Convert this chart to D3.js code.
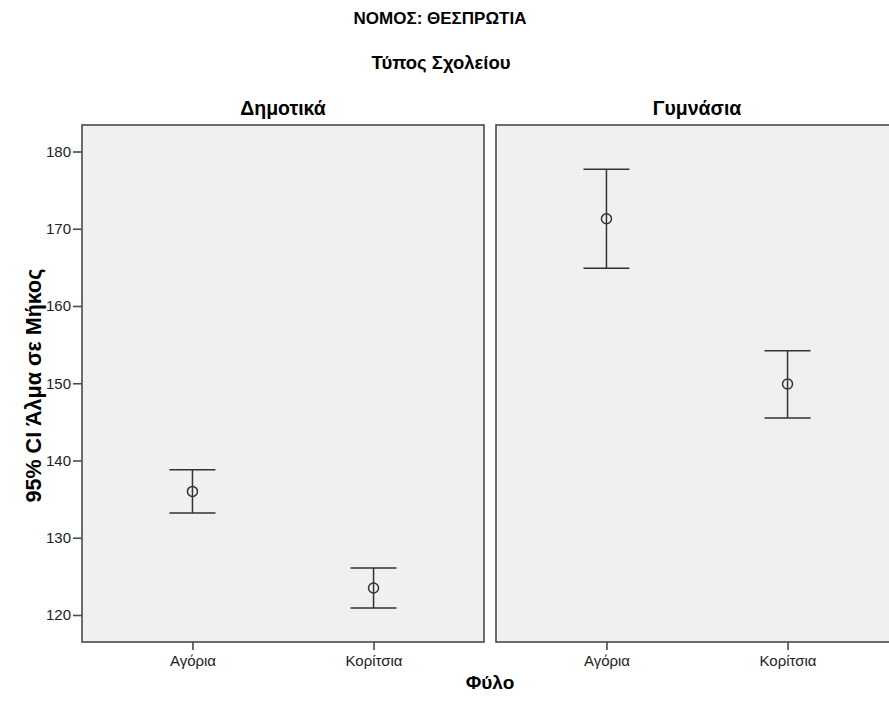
<!DOCTYPE html>
<html><head><meta charset="utf-8">
<script src="https://cdn.jsdelivr.net/npm/d3@7"></script>
<style>body{margin:0;background:#fff;} svg{display:block;}</style>
</head><body>
<svg id="c" width="889" height="706"></svg>
<script>
const title = "ΝΟΜΟΣ: ΘΕΣΠΡΩΤΙΑ";
const panelTitle = "Τύπος Σχολείου";
const panels = ["Δημοτικά", "Γυμνάσια"];
const categories = ["Αγόρια", "Κορίτσια"];
const means = [[136.0, 123.5], [171.3, 149.9]];
const lower = [[133.2, 120.9], [164.9, 145.5]];
const upper = [[138.8, 126.1], [177.7, 154.2]];
const yTicks = [120, 130, 140, 150, 160, 170, 180];
const yLabel = "95% CI Άλμα σε Μήκος";
const xLabel = "Φύλο";

const svg = d3.select("#c");
const pTop = 125, pBottom = 642;
const panelW = 402, panelLefts = [82, 496];
const y = d3.scaleLinear().domain([120, 180]).range([615, 151.5]);
const x = d3.scalePoint().domain(categories).range([0, panelW]).padding(0.61);

const sans = "'Liberation Sans',Arial,sans-serif";
svg.append("text").attr("x", 440).attr("y", 24).attr("text-anchor", "middle")
  .attr("font-family", sans).attr("font-weight", "bold").attr("font-size", 17).text(title);
svg.append("text").attr("x", 441).attr("y", 69).attr("text-anchor", "middle")
  .attr("font-family", sans).attr("font-weight", "bold").attr("font-size", 18.5).text(panelTitle);

panels.forEach((p, i) => {
  const g = svg.append("g").attr("transform", `translate(${panelLefts[i]},0)`);
  g.append("text").attr("x", panelW / 2).attr("y", 115).attr("text-anchor", "middle")
    .attr("font-family", sans).attr("font-weight", "bold").attr("font-size", 19.5).text(p);
  g.append("rect").attr("x", 0).attr("y", pTop).attr("width", panelW).attr("height", pBottom - pTop)
    .attr("fill", "#f0f0f0").attr("stroke", "#4a4a4a").attr("stroke-width", 1.6);
  const xa = g.append("g").attr("transform", `translate(0,${pBottom})`)
    .call(d3.axisBottom(x).tickSize(8).tickPadding(5));
  xa.select(".domain").remove();
  xa.selectAll("line").attr("stroke", "#4a4a4a").attr("stroke-width", 1.6);
  xa.selectAll("text").attr("font-family", sans).attr("font-size", 15).attr("fill", "#222");
  if (i === 0) {
    const ya = g.append("g").call(d3.axisLeft(y).tickValues(yTicks).tickSize(9).tickPadding(2));
    ya.select(".domain").remove();
    ya.selectAll("line").attr("stroke", "#4a4a4a").attr("stroke-width", 1.6);
    ya.selectAll("text").attr("font-family", sans).attr("font-size", 15).attr("fill", "#222");
  }
  const capW = 23;
  categories.forEach((c, j) => {
    const cx = x(c);
    const eb = g.append("g").attr("stroke", "#333").attr("stroke-width", 1.5).attr("fill", "none");
    eb.append("line").attr("x1", cx).attr("x2", cx).attr("y1", y(upper[i][j])).attr("y2", y(lower[i][j]));
    eb.append("line").attr("x1", cx - capW).attr("x2", cx + capW).attr("y1", y(upper[i][j])).attr("y2", y(upper[i][j]));
    eb.append("line").attr("x1", cx - capW).attr("x2", cx + capW).attr("y1", y(lower[i][j])).attr("y2", y(lower[i][j]));
    eb.append("circle").attr("cx", cx).attr("cy", y(means[i][j])).attr("r", 5);
  });
});

svg.append("text").attr("transform", `translate(41,${(pTop + pBottom) / 2 + 2}) rotate(-90)`)
  .attr("text-anchor", "middle").attr("font-family", sans)
  .attr("font-weight", "bold").attr("font-size", 21.5).text(yLabel);
svg.append("text").attr("x", 490).attr("y", 689).attr("text-anchor", "middle")
  .attr("font-family", sans).attr("font-weight", "bold").attr("font-size", 19).text(xLabel);
</script>
</body></html>
